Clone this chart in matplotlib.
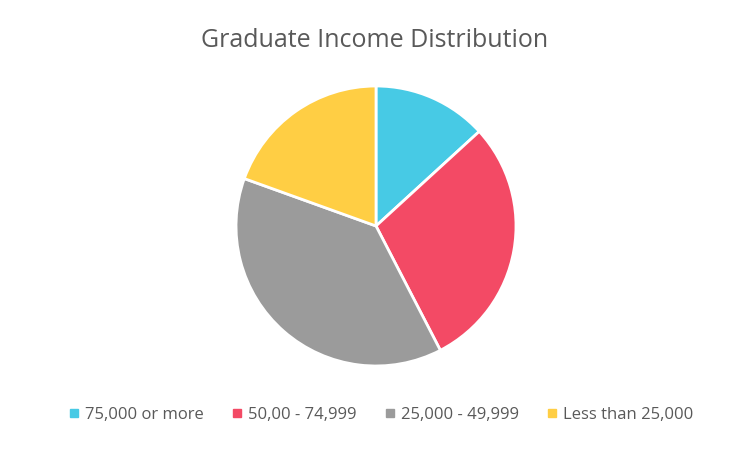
import matplotlib.pyplot as plt
from matplotlib.lines import Line2D

labels = ['75,000 or more', '50,00 - 74,999', '25,000 - 49,999', 'Less than 25,000']
shares = [13.2, 29.2, 38.1, 19.5]
colors = ['#47CAE5', '#F34A65', '#9B9B9B', '#FFCE44']

plt.rcParams['font.family'] = ['Open Sans', 'DejaVu Sans']

fig = plt.figure(figsize=(7.5, 4.5), dpi=100)
ax = fig.add_axes([0.3147, 0.1867, 0.3733, 0.6222])
wedges, _ = ax.pie(shares, colors=colors, startangle=90, counterclock=False, radius=1,
                   wedgeprops=dict(edgecolor='white', linewidth=2))
for w in wedges:
    w.set_clip_on(False)
ax.set_xlim(-1, 1)
ax.set_ylim(-1, 1)
ax.set_aspect('equal')

fig.text(0.5, 0.91, 'Graduate Income Distribution', ha='center', va='center',
         fontsize=18, color='#595959')

handles = [Line2D([], [], marker='s', linestyle='none', markersize=6,
                  markerfacecolor=c, markeredgecolor=c) for c in colors]
fig.legend(handles, labels, loc='center', bbox_to_anchor=(0.509, 0.078), ncol=4,
           frameon=False, fontsize=12, labelcolor='#595959',
           handlelength=0.5, handletextpad=0.4, columnspacing=1.75)

fig.savefig('out.png', dpi=100)
